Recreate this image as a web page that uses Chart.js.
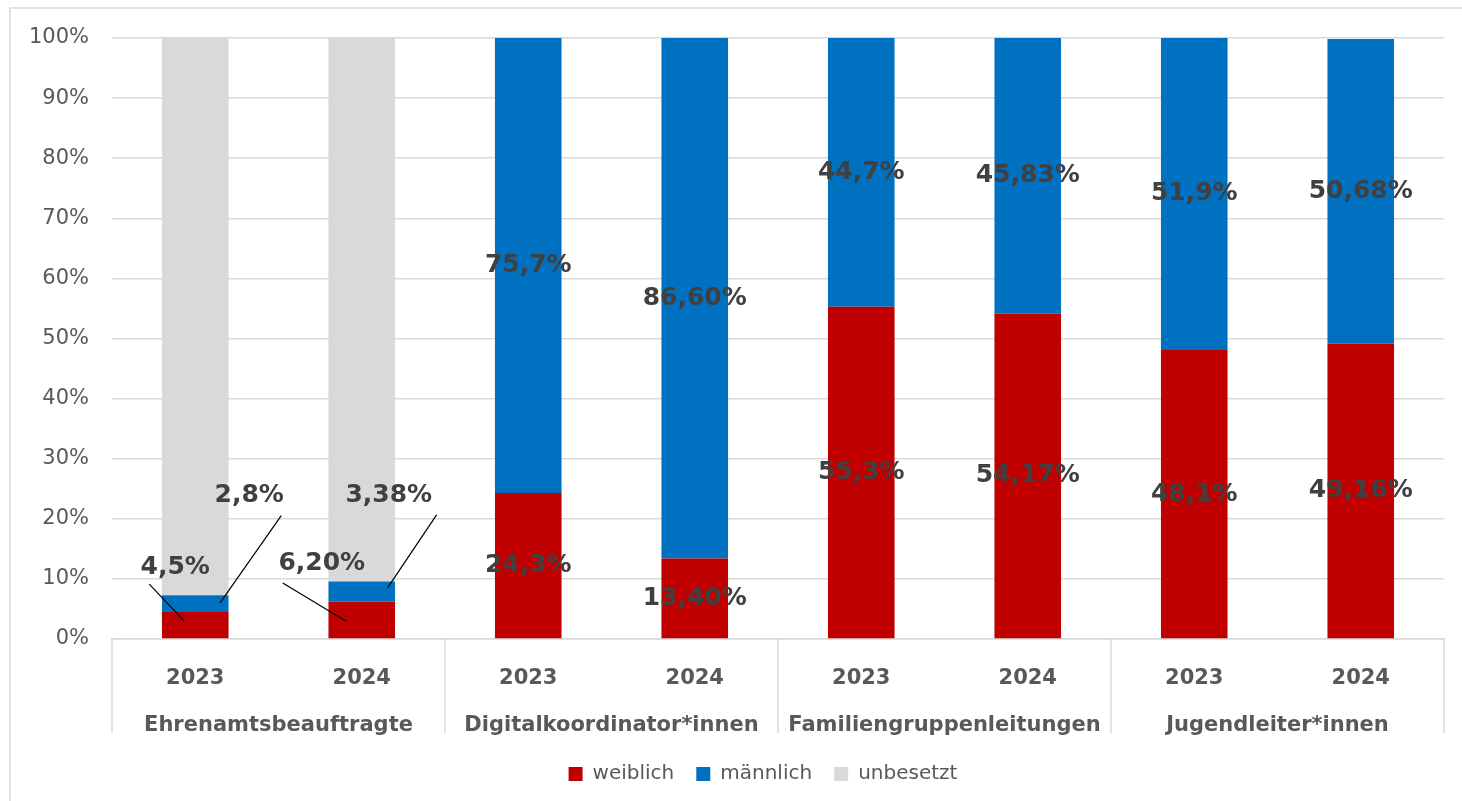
<!DOCTYPE html>
<html lang="de">
<head>
<meta charset="utf-8">
<title>Ehrenamt nach Geschlecht</title>
<script src="https://cdn.jsdelivr.net/npm/chart.js"></script>
<style>
  html, body { margin: 0; padding: 0; background: #fff; overflow: hidden; }
  #wrap { position: relative; width: 1462px; height: 801px; }
</style>
</head>
<body>
<div id="wrap"><canvas id="chart"></canvas></div>
<script>
// data
const groups = ['Ehrenamtsbeauftragte', 'Digitalkoordinator*innen', 'Familiengruppenleitungen', 'Jugendleiter*innen'];
const years = ['2023', '2024'];
const weiblich = [4.5, 6.2, 24.3, 13.4, 55.3, 54.17, 48.1, 49.16];
const maennlich = [2.8, 3.38, 75.7, 86.6, 44.7, 45.83, 51.9, 50.68];
const unbesetzt = [92.7, 90.42, 0, 0, 0, 0, 0, 0];
// decimals shown in the labels, per year
const yearDecimals = [1, 2];

const xLabels = groups.flatMap(() => years);

const GRAY_TEXT = '#595959';
const GRID = '#d9d9d9';
const FONT = '"DejaVu Sans", Verdana, sans-serif';

// labels of the small Ehrenamt segments sit outside with a leader line
// offsets in px from the segment centre: label, line start, line end
const callouts = {
  '0-0': { label: [-20, -58], from: [-46, -41], to: [-11, -4] },
  '1-0': { label: [54, -108], from: [86, -88], to: [25, -1] },
  '0-1': { label: [-40, -56], from: [-79, -37], to: [-16, 1] },
  '1-1': { label: [27, -96], from: [75, -77], to: [26, -4] }
};

function fmt(v, dec) {
  return v.toFixed(dec).replace('.', ',') + '%';
}

const framePlugin = {
  id: 'frame',
  // legend sits a bit right of the canvas centre in the original
  afterLayout(chart) {
    chart.legend.left += 82;
  },
  beforeDraw(chart) {
    const ctx = chart.ctx;
    ctx.save();
    ctx.strokeStyle = GRID;
    ctx.lineWidth = 1.5;
    ctx.strokeRect(10, 8, 1480, 840);
    ctx.restore();
  }
};

// vertical separators between the groups below the plot
const separatorPlugin = {
  id: 'separators',
  afterDraw(chart) {
    const x = chart.scales.x;
    const top = chart.chartArea.bottom;
    const bottom = chart.scales.x2.top + 44;
    const ctx = chart.ctx;
    ctx.save();
    ctx.strokeStyle = GRID;
    ctx.lineWidth = 1.5;
    for (let g = 0; g <= groups.length; g++) {
      let px;
      if (g === 0) px = x.left;
      else if (g === groups.length) px = x.right;
      else px = (x.getPixelForValue(g * 2 - 1) + x.getPixelForValue(g * 2)) / 2;
      ctx.beginPath();
      ctx.moveTo(px, top);
      ctx.lineTo(px, bottom);
      ctx.stroke();
    }
    ctx.restore();
  }
};

const labelPlugin = {
  id: 'barLabels',
  afterDatasetsDraw(chart) {
    const ctx = chart.ctx;
    ctx.save();
    ctx.font = 'bold 25px ' + FONT;
    ctx.fillStyle = '#404040';
    ctx.textAlign = 'center';
    ctx.textBaseline = 'middle';
    [0, 1].forEach(d => {
      const meta = chart.getDatasetMeta(d);
      meta.data.forEach((bar, i) => {
        const v = chart.data.datasets[d].data[i];
        if (!v) return;
        const p = bar.getProps(['x', 'y', 'base'], true);
        const cx = p.x;
        const cy = (p.y + p.base) / 2;
        const text = fmt(v, yearDecimals[i % 2]);
        const c = callouts[d + '-' + i];
        if (c) {
          ctx.beginPath();
          ctx.strokeStyle = '#000';
          ctx.lineWidth = 1.2;
          ctx.moveTo(cx + c.from[0], cy + c.from[1]);
          ctx.lineTo(cx + c.to[0], cy + c.to[1]);
          ctx.stroke();
          ctx.fillText(text, cx + c.label[0], cy + c.label[1]);
        } else {
          ctx.fillText(text, cx, cy);
        }
      });
    });
    ctx.restore();
  }
};

new Chart(document.getElementById('chart'), {
  type: 'bar',
  data: {
    labels: xLabels,
    datasets: [
      { label: 'weiblich', data: weiblich, backgroundColor: '#c00000' },
      { label: 'männlich', data: maennlich, backgroundColor: '#0070c0' },
      { label: 'unbesetzt', data: unbesetzt, backgroundColor: '#d9d9d9' }
    ]
  },
  options: {
    responsive: true,
    maintainAspectRatio: false,
    animation: false,
    barPercentage: 0.4,
    categoryPercentage: 1,
    layout: {
      padding: { top: 38, right: 18, bottom: 7, left: 0 }
    },
    scales: {
      x: {
        stacked: true,
        weight: 0,
        grid: { display: false },
        border: { display: true, color: GRID, width: 1.5 },
        ticks: {
          color: GRAY_TEXT,
          padding: 19,
          maxRotation: 0,
          autoSkip: false,
          font: { family: FONT, size: 21, weight: 'bold' }
        },
        afterFit(scale) { scale.height = 50; }
      },
      x2: {
        type: 'category',
        labels: groups,
        position: 'bottom',
        offset: true,
        weight: 1,
        grid: { display: false },
        border: { display: false },
        ticks: {
          color: GRAY_TEXT,
          padding: 16,
          maxRotation: 0,
          autoSkip: false,
          font: { family: FONT, size: 21, weight: 'bold' }
        },
        afterFit(scale) { scale.height = 53; }
      },
      y: {
        stacked: true,
        min: 0,
        max: 100,
        grid: { color: GRID, lineWidth: 1.5, drawTicks: false },
        border: { display: false },
        ticks: {
          stepSize: 10,
          color: GRAY_TEXT,
          padding: 23,
          font: { family: FONT, size: 21 },
          callback: v => v + '%'
        },
        afterFit(scale) { scale.width = 112; }
      }
    },
    plugins: {
      legend: {
        position: 'bottom',
        labels: {
          boxWidth: 14,
          boxHeight: 14,
          padding: 22,
          color: GRAY_TEXT,
          font: { family: FONT, size: 20 }
        }
      },
      tooltip: { enabled: false }
    }
  },
  plugins: [framePlugin, separatorPlugin, labelPlugin]
});
</script>
</body>
</html>
